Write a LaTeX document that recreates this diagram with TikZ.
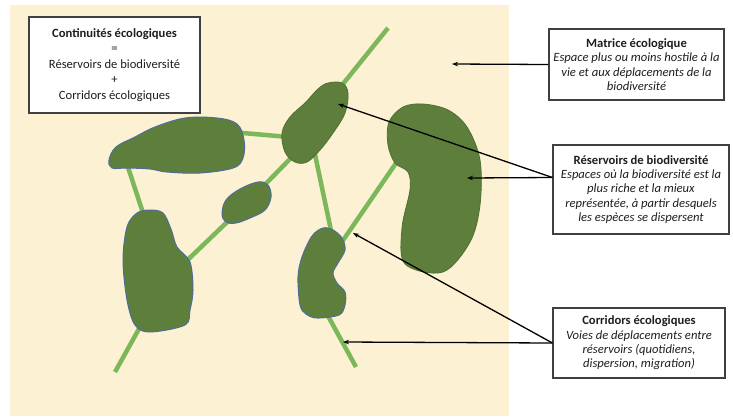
\documentclass[tikz,border=0pt]{standalone}
\usepackage{fontspec}
\setmainfont{Carlito}[UprightFont=*, BoldFont=* Bold, ItalicFont=* Italic, BoldItalicFont=* Bold Italic]
\usetikzlibrary{arrows.meta}
\definecolor{beige}{HTML}{FCF1D2}
\definecolor{blobfill}{HTML}{5E7F3C}
\definecolor{blueedge}{HTML}{4E6E9A}
\definecolor{greenedge}{HTML}{4F6F32}
\definecolor{corr}{HTML}{7CB85A}
\definecolor{boxedge}{HTML}{404040}
\definecolor{txt}{HTML}{1E1E1E}
\tikzset{
  corridor/.style={draw=corr, line width=4.5pt},
  blobA/.style={fill=blobfill, draw=blueedge, line width=1pt},
  blobB/.style={fill=blobfill, draw=greenedge, line width=0.8pt},
  infobox/.style={draw=boxedge, line width=1.1pt, fill=white, align=center, text=txt,
    inner sep=0pt, font=\fontsize{12.6}{14.4}\selectfont},
  pointer/.style={draw=black, line width=1.3pt, -{Stealth[length=6pt,width=4.5pt]}}
}
\begin{document}
\begin{tikzpicture}[x=1pt,y=-1pt]
\useasboundingbox (0,0) rectangle (733,416);
\fill[white] (0,0) rectangle (733,416);
\fill[beige] (10,5) rectangle (509,416);

% corridors
\draw[corridor] (388,28) -- (318,115);
\draw[corridor] (330,118) -- (247,203) -- (175,272);
\draw[corridor] (220,131) -- (300,138);
\draw[corridor] (124,155) -- (147,225);
\draw[corridor] (145,318) -- (115,372);
\draw[corridor] (313,145) -- (333,240);
\draw[corridor] (335,252) -- (405,150);
\draw[corridor] (322,305) -- (356,367);

% reservoirs
\draw[blobA] plot[smooth cycle, tension=0.6] coordinates {
  (109,160) (116,147) (135,137) (155,127) (185,118) (217,118) (237,124) (244,140)
  (243,158) (233,168) (200,173) (167,172) (150,169) (127,168) (112,168)};
\draw[blobB] plot[smooth cycle, tension=0.6] coordinates {
  (328,83) (342,83) (348,93) (345,113) (333,133) (320,150) (307,162) (295,162)
  (285,152) (282,133) (290,117) (305,103) (318,89)};
\draw[blobA] plot[smooth cycle, tension=0.6] coordinates {
  (222,214) (226,200) (240,189) (258,182) (268,185) (271,197) (265,210) (250,218)
  (236,223) (226,222)};
\draw[blobA] plot[smooth cycle, tension=0.55] coordinates {
  (150,210) (163,213) (171,229) (177,247) (190,262) (193,290) (190,310) (185,325)
  (150,332) (135,325) (127,300) (123,260) (127,227) (137,213)};
\draw[blobA] plot[smooth cycle, tension=0.55] coordinates {
  (323,228) (333,230) (342,238) (345,250) (338,263) (333,273) (337,283) (345,292)
  (345,305) (339,315) (317,318) (306,314) (300,305) (298,277) (302,257) (312,236)};
\draw[blobB] plot[smooth cycle, tension=0.55] coordinates {
  (403,107) (423,104) (448,110) (467,127) (480,160) (480,205) (470,242) (443,272)
  (405,264) (402,228) (410,190) (408,172) (395,163) (388,145) (389,122)};

% boxes
\node[infobox, minimum width=171pt, minimum height=96pt,
  font=\fontsize{12.6}{15.5}\selectfont] (cont) at (114.5,65)
  {\textbf{Continuités écologiques}\\=\\Réservoirs de biodiversité\\+\\Corridors écologiques};
\node[infobox, minimum width=175pt, minimum height=71pt] (mat) at (636.5,64.5)
  {\textbf{Matrice écologique}\\\textit{Espace plus ou moins hostile à la}\\\textit{vie et aux déplacements de la}\\\textit{biodiversité}};
\node[infobox, minimum width=176pt, minimum height=89pt] (res) at (641,189.5)
  {\textbf{Réservoirs de biodiversité}\\\textit{Espaces où la biodiversité est la}\\\textit{plus riche et la mieux}\\\textit{représentée, à partir desquels}\\\textit{les espèces se dispersent}};
\node[infobox, minimum width=172pt, minimum height=70pt] (cor) at (639,343)
  {\textbf{Corridors écologiques}\\\textit{Voies de déplacements entre}\\\textit{réservoirs (quotidiens,}\\\textit{dispersion, migration)}};

% pointer targets
\coordinate (tmat) at (452,64);
\coordinate (tres1) at (338,104);
\coordinate (tres2) at (467,178);
\coordinate (tcor1) at (353,233);
\coordinate (tcor2) at (343,342);
\coordinate (sres) at ([yshift=12pt]res.west);

\draw[pointer] (mat.west) -- (tmat);
\draw[pointer] (sres) -- (tres1);
\draw[pointer] (sres) -- (tres2);
\draw[pointer] (cor.west) -- (tcor1);
\draw[pointer] (cor.west) -- (tcor2);
\end{tikzpicture}
\end{document}
